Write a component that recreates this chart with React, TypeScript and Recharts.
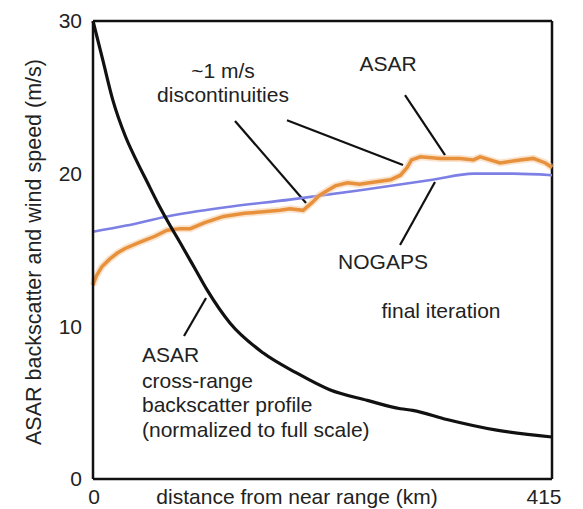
import { LineChart, Line, XAxis, YAxis, ReferenceLine, Customized } from "recharts";

// distance from near range (km) and values
const backscatterKm = [0, 9, 18, 29, 39, 49, 58, 67, 81, 92, 103, 124, 154, 184, 214, 248, 278, 289, 320, 365, 415];
const backscatterVal = [30, 27.4, 24.8, 22.5, 20.9, 19.45, 18.15, 16.95, 15.2, 13.8, 12.4, 10.2, 8.25, 6.95, 5.85, 5.15, 4.6, 4.5, 3.9, 3.2, 2.75];

const nogapsKm = [0, 30, 67, 120, 178, 240, 307, 344, 380, 415];
const nogapsVal = [16.2, 16.6, 17.2, 17.8, 18.3, 18.9, 19.6, 20.0, 20.0, 19.9];

const asarKm = [0, 3, 8, 15, 22, 29, 42, 56, 67, 79, 88, 101, 118, 137, 154, 169, 178, 190, 198, 205, 219, 230, 241, 250, 269, 278, 284, 288, 296, 314, 332, 344, 350, 368, 386, 398, 409, 415];
const asarVal = [12.7, 13.3, 13.9, 14.4, 14.8, 15.1, 15.5, 15.9, 16.3, 16.4, 16.4, 16.8, 17.2, 17.4, 17.5, 17.6, 17.7, 17.6, 18.1, 18.6, 19.2, 19.4, 19.3, 19.4, 19.6, 19.9, 20.4, 20.9, 21.1, 21.0, 21.0, 20.9, 21.1, 20.7, 20.9, 21.0, 20.7, 20.4];

const yTicks = [0, 10, 20, 30];
const xTicks = [0, 415];

// leader lines in data coords [x1, y1, x2, y2]
const leaders = [
  [128.4, 23.45, 192.6, 18.08],
  [175.4, 23.5, 280.3, 20.57],
  [282.1, 25.15, 318.3, 21.22],
  [309.2, 19.45, 277.6, 15.33],
  [102.2, 11.86, 82.3, 9.37],
];

const zip = (xs: number[], ys: number[]) => xs.map((x, i) => ({ km: x, v: ys[i] }));

const backscatter = zip(backscatterKm, backscatterVal);
const nogaps = zip(nogapsKm, nogapsVal);
const asar = zip(asarKm, asarVal);

const FONT = "'Liberation Sans', Arial, sans-serif";
const TXT = "#222";
const FRAME = { stroke: "#111", strokeWidth: 2.5 };

function YTick({ x, y, payload }: any) {
  return (
    <text x={x - 3} y={y} dy="0.35em" textAnchor="end" fontSize={21} fontFamily={FONT} fill={TXT}>
      {payload.value}
    </text>
  );
}

function XTick({ x, y, payload }: any) {
  const dx = payload.value === 415 ? -8 : 1;
  return (
    <text x={x + dx} y={y + 10} dy="0.35em" textAnchor="middle" fontSize={21} fontFamily={FONT} fill={TXT}>
      {payload.value}
    </text>
  );
}

function Notes() {
  const t = (x: number, y: number, s: string, anchor = "middle") => (
    <text key={s} x={x} y={y} dy="0.35em" textAnchor={anchor} fontSize={21} fontFamily={FONT} fill={TXT}>
      {s}
    </text>
  );
  return (
    <g>
      {t(215, 63, "~1 m/s")}
      {t(215, 87, "discontinuities")}
      {t(380, 56, "ASAR")}
      {t(375, 254, "NOGAPS")}
      {t(433, 303, "final iteration")}
      {t(134, 347, "ASAR", "start")}
      {t(134, 373, "cross-range", "start")}
      {t(134, 397, "backscatter profile", "start")}
      {t(134, 422, "(normalized to full scale)", "start")}
      {t(289, 489, "distance from near range (km)")}
      <text x={25} y={244} dy="0.35em" textAnchor="middle" fontSize={21.5} fontFamily={FONT} fill={TXT} transform="rotate(-90 25 244)">
        ASAR backscatter and wind speed (m/s)
      </text>
    </g>
  );
}

export default function App() {
  return (
    <LineChart width={575} height={501} margin={{ top: 13, right: 31, bottom: 0, left: 0 }}>
      <XAxis xAxisId="b" dataKey="km" type="number" domain={[0, 415]} ticks={xTicks} tick={<XTick />}
        tickLine={false} axisLine={FRAME} height={30} allowDuplicatedCategory={false} />
      <YAxis yAxisId="l" type="number" domain={[0, 30]} ticks={yTicks} tick={<YTick />} tickLine={false}
        axisLine={FRAME} width={85} />
      <ReferenceLine xAxisId="b" yAxisId="l" y={30} {...FRAME} ifOverflow="visible" />
      <ReferenceLine xAxisId="b" yAxisId="l" x={415} {...FRAME} ifOverflow="visible" />
      {leaders.map((s, i) => (
        <ReferenceLine key={i} xAxisId="b" yAxisId="l" segment={[{ x: s[0], y: s[1] }, { x: s[2], y: s[3] }]}
          stroke="#111" strokeWidth={2.2} ifOverflow="visible" />
      ))}
      <Line xAxisId="b" yAxisId="l" data={nogaps} dataKey="v" type="monotone" stroke="#7C7FE4" strokeWidth={2.6}
        dot={false} isAnimationActive={false} />
      <Line xAxisId="b" yAxisId="l" data={asar} dataKey="v" type="linear" stroke="#F6C79A" strokeWidth={7}
        strokeOpacity={0.5} dot={false} isAnimationActive={false} />
      <Line xAxisId="b" yAxisId="l" data={asar} dataKey="v" type="linear" stroke="#E8913C" strokeWidth={3.5}
        dot={false} isAnimationActive={false} />
      <Line xAxisId="b" yAxisId="l" data={backscatter} dataKey="v" type="monotone" stroke="#111" strokeWidth={3.2}
        dot={false} isAnimationActive={false} />
      <Customized component={<Notes />} />
    </LineChart>
  );
}
